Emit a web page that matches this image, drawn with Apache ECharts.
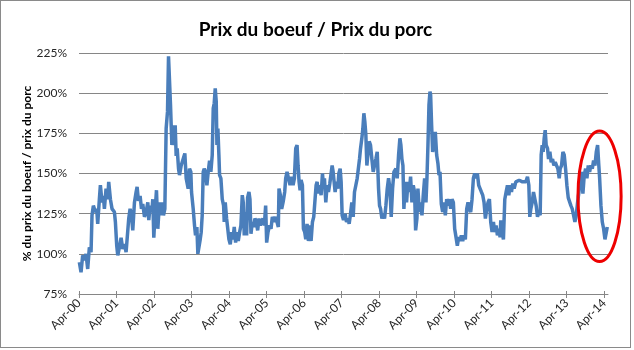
<!DOCTYPE html>
<html>
<head>
<meta charset="utf-8">
<script src="https://cdn.jsdelivr.net/npm/echarts@6/dist/echarts.min.js"></script>
<style>
  html, body { margin: 0; padding: 0; background: #ffffff; }
  #chart { position: absolute; left: 0; top: 0; width: 629px; height: 346px; border: 1px solid #8a8a8a; }
</style>
</head>
<body>
<div id="chart"></div>
<script>
// ---- Data (decimal year, ratio beef price / pork price in %) ----
const chartTitle = 'Prix du boeuf / Prix du porc';
const yAxisTitle = '% du prix du boeuf / prix du porc';

const tickValues = [2000.25, 2001.25, 2002.25, 2003.25, 2004.25, 2005.25, 2006.25, 2007.25,
                    2008.25, 2009.25, 2010.25, 2011.25, 2012.25, 2013.25, 2014.25];
const tickLabels = ['Apr-00', 'Apr-01', 'Apr-02', 'Apr-03', 'Apr-04', 'Apr-05', 'Apr-06', 'Apr-07',
                    'Apr-08', 'Apr-09', 'Apr-10', 'Apr-11', 'Apr-12', 'Apr-13', 'Apr-14'];
const yTicks = [75, 100, 125, 150, 175, 200, 225];

const dates = [
  2000.259,2000.304,2000.348,2000.393,2000.437,2000.482,2000.526,2000.571,
  2000.597,2000.633,2000.686,2000.722,2000.749,2000.793,2000.820,2000.864,
  2000.900,2000.927,2000.971,2001.016,2001.042,2001.087,2001.131,2001.194,
  2001.220,2001.256,2001.283,2001.327,2001.372,2001.416,2001.461,2001.505,
  2001.550,2001.576,2001.612,2001.648,2001.683,2001.728,2001.772,2001.799,
  2001.834,2001.879,2001.915,2001.950,2001.995,2002.039,2002.084,2002.110,
  2002.146,2002.191,2002.217,2002.244,2002.288,2002.315,2002.351,2002.395,
  2002.440,2002.466,2002.502,2002.538,2002.573,2002.609,2002.636,2002.662,
  2002.689,2002.725,2002.751,2002.787,2002.814,2002.840,2002.867,2002.903,
  2002.929,2002.974,
  2003.000,2003.071,2003.107,2003.160,2003.196,2003.231,2003.249,2003.294,
  2003.329,2003.356,2003.392,2003.418,2003.445,2003.481,2003.507,2003.534,
  2003.561,2003.587,2003.623,2003.659,2003.694,2003.730,2003.765,2003.801,
  2003.828,2003.854,2003.881,2003.908,2003.926,2003.952,2003.979,2003.997,
  2004.032,2004.068,2004.104,2004.121,2004.148,2004.184,2004.210,2004.246,
  2004.282,2004.317,2004.353,2004.388,2004.424,2004.460,2004.495,2004.531,
  2004.566,2004.602,2004.629,2004.655,2004.691,2004.718,2004.744,2004.780,
  2004.807,2004.834,2004.869,2004.905,2004.940,2004.976,2005.012,2005.047,
  2005.083,2005.118,2005.154,2005.190,2005.225,2005.252,2005.288,2005.332,
  2005.368,2005.403,2005.448,2005.492,2005.528,2005.563,2005.581,2005.617,
  2005.652,2005.697,2005.733,2005.759,2005.795,
  2005.831,2005.876,2005.920,2005.956,2005.991,2006.027,2006.062,2006.089,
  2006.116,2006.143,2006.169,2006.205,2006.232,2006.267,2006.294,2006.329,
  2006.365,2006.401,2006.436,2006.472,2006.507,2006.543,2006.570,2006.597,
  2006.632,2006.668,2006.703,2006.739,2006.766,2006.792,2006.828,2006.864,
  2006.899,2006.935,2006.970,2006.997,2007.024,2007.050,2007.077,2007.113,
  2007.148,2007.175,2007.211,2007.237,2007.264,2007.300,2007.344,2007.380,
  2007.415,2007.451,2007.487,2007.522,2007.558,2007.593,2007.629,2007.665,
  2007.700,2007.727,2007.754,2007.789,2007.816,2007.843,2007.869,2007.896,
  2007.923,2007.949,2007.985,2008.020,2008.056,2008.092,2008.127,2008.163,
  2008.199,2008.234,2008.261,2008.288,2008.323,2008.359,2008.394,2008.430,
  2008.466,2008.501,2008.537,2008.572,2008.608,2008.644,
  2008.661,2008.697,2008.732,2008.768,2008.803,2008.830,2008.857,2008.884,
  2008.910,2008.946,2008.981,2009.017,2009.053,2009.088,2009.124,2009.159,
  2009.195,2009.222,2009.257,2009.284,2009.320,2009.355,2009.391,2009.426,
  2009.462,2009.498,2009.524,2009.551,2009.578,2009.605,2009.622,2009.649,
  2009.676,2009.711,2009.747,2009.783,2009.818,2009.845,2009.872,2009.907,
  2009.943,2009.978,2010.014,2010.050,2010.085,2010.121,2010.156,2010.192,
  2010.228,2010.263,2010.299,2010.334,2010.370,2010.406,2010.441,2010.477,
  2010.512,2010.548,2010.584,2010.619,2010.655,2010.690,2010.726,2010.762,
  2010.797,2010.833,2010.868,2010.904,2010.940,2010.975,2011.011,2011.046,
  2011.082,2011.118,2011.153,2011.189,2011.224,2011.260,2011.296,2011.331,
  2011.367,2011.402,2011.438,2011.474,
  2011.492,2011.528,2011.563,2011.599,2011.634,2011.670,2011.706,2011.741,
  2011.777,2011.812,2011.848,2011.893,2011.937,2011.982,2012.026,2012.071,
  2012.115,2012.160,2012.204,2012.240,2012.266,2012.293,2012.329,2012.364,
  2012.400,2012.435,2012.471,2012.507,2012.542,2012.569,2012.596,2012.622,
  2012.649,2012.676,2012.702,2012.738,2012.765,2012.800,2012.836,2012.872,
  2012.907,2012.943,2012.978,2013.014,2013.050,2013.076,2013.112,2013.148,
  2013.183,2013.219,2013.254,2013.290,2013.326,2013.361,2013.397,2013.432,
  2013.468,2013.504,2013.539,2013.575,2013.610,2013.646,2013.681,2013.717,
  2013.753,2013.788,2013.824,2013.860,2013.895,2013.931,2013.966,2014.002,
  2014.038,2014.073,2014.100,2014.127,2014.162,2014.198,2014.233,2014.269,
  2014.305,2014.331
];

const ratio = [
  94.8,88.5,99,96,100,90.6,104,101,
  124,130,126,128,118.7,134,142.7,132,
  136,128,140.6,134,144.8,134,128,126,
  119.8,105,99,104,110,103,106,101,
  101,122,128,124,114.6,132,138.5,141.7,
  133,136,128,131,123,126,132,121,
  130,126,134,110,130,139.6,115.6,132,
  124,132,124,128,178,188.5,223,222,
  192.7,167.7,180,167.7,180,161,165.6,153,
  149,155,
  157,162.5,147,140.6,153,151,138.5,128,
  117.7,111.5,116.7,100,99,109,113.5,124,
  151,153,151,142.7,151,158,151,161.5,
  190.6,193.75,203,194.8,167.7,178,161.5,149,
  147,134,130,119.8,132,122,116.7,109,
  106,113.5,109,116.7,107,113.5,108,113.5,
  117.7,136.5,132,111.5,126,111.5,135,138.5,
  134,112.5,119.8,116.7,122,119.8,114.6,122,
  117.7,116.7,122,117.7,130,107,113.5,117.7,
  115.6,123,119.8,123,122,116.7,140.6,136.5,
  128,133,138.5,147,151,
  151,142.7,148,142.7,147,165.6,167.7,155,
  144.8,139.6,146,142.7,115.6,113.5,109,118.7,
  108,117.7,108,119.8,123,122,142.7,144.8,
  137.5,142.7,136.5,150,142.7,147,132,142.7,
  138.5,143.75,142.7,155,151,144.8,138.5,144.8,
  140.6,150,153,144.8,124,121,125,119.8,
  122,118.7,125,132,123,138.5,142.7,147,
  148,159,165.6,171.9,178,187.5,182.3,174,
  155,161.5,170,167.7,159,151,155,159,
  163.5,140.6,130,128,122,125,122,130,
  140.6,147,140.6,123,140.6,151,
  151,153,147,161.5,171.9,167.7,159,155,
  128,144.8,132,144.8,138.5,148,132,142.7,
  138.5,114.6,122,140.6,126,132,124,136.5,
  147,132,147,167.7,192.7,201,199,180,
  163.5,167.7,176,161.5,156,149,151,131,
  126,132,124,134,130,134,128,134,
  132,115.6,110.4,105,110.4,108,111.5,108,
  111.5,109,128,132,128,126,134,147,
  150,147,150,142.7,140.6,138.5,136.5,132,
  122,128,132,134,119.8,113.5,119.8,113.5,
  117.7,111.5,115.6,110.4,
  120.8,113.5,109,134,138.5,142.7,136.5,142.7,
  138.5,143.75,140.6,144.8,144.8,145.8,145.8,144.8,
  145.8,144.8,148,142.7,123,128,132,138.5,
  139.6,130,123,126,124,161.5,167.7,163.5,
  171.9,177,167.7,165.6,159,163.5,157,159,
  155,157,155,153,147,153,155,163.5,
  161.5,153,142.7,135,134,130,128,124,
  119.8,124,132,138.5,147,151,137.5,149,
  153,147,155,151,155,153,158,155,
  163.5,167.7,157,147,130,119.8,115.6,109,
  113.5,116.7
];

// Highlighted recent period (red ellipse), in data units
const highlightX = [2013.55, 2014.70];
const highlightY = [95.2, 176.4];

// ---- Chart ----
const chart = echarts.init(document.getElementById('chart'), null, { renderer: 'canvas' });
const FONT = 'Lato';
const seriesData = dates.map((d, i) => [d, ratio[i]]);
const labelFor = v => {
  const i = tickValues.findIndex(t => Math.abs(t - v) < 1e-6);
  return i >= 0 ? tickLabels[i] : '';
};

chart.setOption({
  animation: false,
  backgroundColor: '#ffffff',
  title: {
    text: chartTitle,
    left: 'center',
    top: 14,
    textStyle: { fontFamily: FONT, fontSize: 19, fontWeight: 'bold', color: '#000000' }
  },
  grid: { left: 78, right: 22, top: 52, bottom: 53, containLabel: false },
  xAxis: [{
    type: 'value',
    min: 2000.25,
    max: 2014.35,
    splitLine: { show: false },
    axisLine: { show: true, lineStyle: { color: '#868686', width: 1 } },
    axisTick: { show: true, customValues: tickValues, length: 4, lineStyle: { color: '#868686' } },
    axisLabel: {
      customValues: tickValues,
      formatter: labelFor,
      rotate: 45,
      margin: 7,
      fontFamily: FONT,
      fontSize: 12,
      color: '#262626'
    }
  }, {
    type: 'value',
    min: 2000.25,
    max: 2014.35,
    position: 'bottom',
    splitLine: { show: false },
    axisLine: { show: false },
    axisTick: { show: true, inside: true, customValues: tickValues, length: 3, lineStyle: { color: '#868686' } },
    axisLabel: { show: false }
  }],
  yAxis: {
    type: 'value',
    min: 75,
    max: 225,
    interval: 25,
    name: yAxisTitle,
    nameLocation: 'middle',
    nameGap: 46,
    nameMoveOverlap: false,
    nameTextStyle: { fontFamily: FONT, fontSize: 12, fontWeight: 'bold', color: '#000000' },
    axisLine: { show: false },
    axisTick: { show: false },
    splitLine: { show: true, lineStyle: { color: '#868686', width: 1 } },
    axisLabel: {
      formatter: '{value}%',
      margin: 12,
      fontFamily: FONT,
      fontSize: 12,
      color: '#262626'
    }
  },
  series: [{
    type: 'line',
    data: seriesData,
    showSymbol: false,
    symbol: 'none',
    lineStyle: { color: '#4a7ebb', width: 3.5 },
    itemStyle: { color: '#4a7ebb' },
    z: 3
  }]
});

// Red ellipse annotation placed from data values
const p1 = chart.convertToPixel({ gridIndex: 0 }, [highlightX[0], highlightY[1]]);
const p2 = chart.convertToPixel({ gridIndex: 0 }, [highlightX[1], highlightY[0]]);
chart.setOption({
  graphic: [{
    type: 'ellipse',
    shape: {
      cx: (p1[0] + p2[0]) / 2,
      cy: (p1[1] + p2[1]) / 2,
      rx: Math.abs(p2[0] - p1[0]) / 2,
      ry: Math.abs(p2[1] - p1[1]) / 2
    },
    style: { fill: 'none', stroke: '#ee0000', lineWidth: 3 },
    z: 100
  }]
});
</script>
</body>
</html>
